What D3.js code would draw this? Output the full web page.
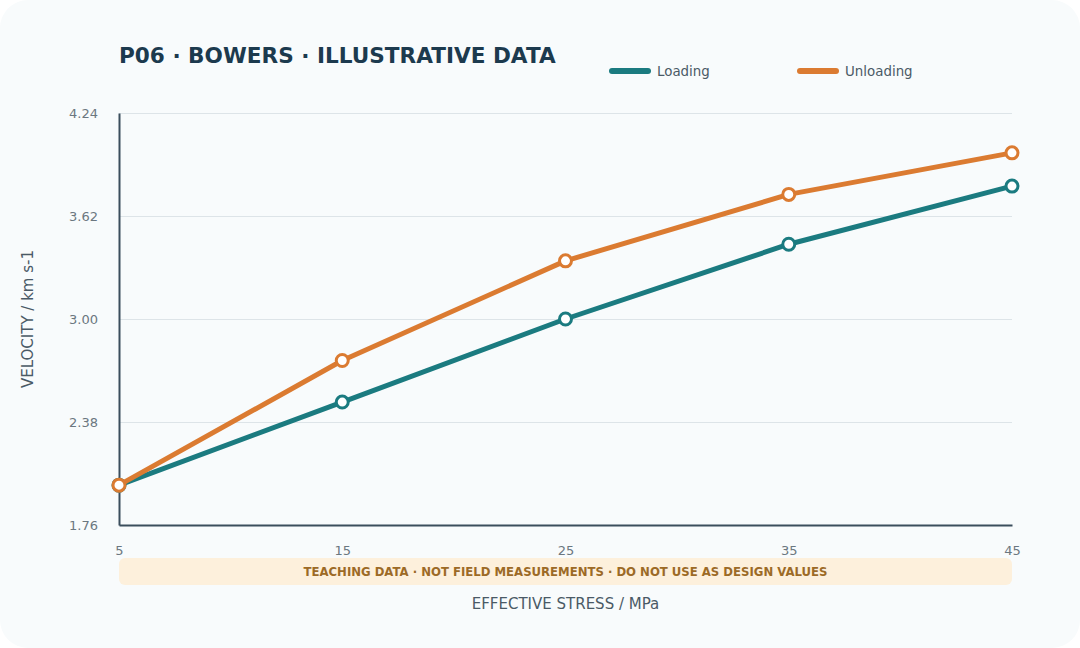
<!DOCTYPE html>
<html>
<head>
<meta charset="utf-8">
<script src="https://cdn.jsdelivr.net/npm/d3@7"></script>
<style>
  html, body { margin: 0; padding: 0; background: #ffffff; }
  svg { display: block; font-family: "DejaVu Sans", sans-serif; }
  svg text { font-family: "DejaVu Sans", sans-serif; }
</style>
</head>
<body>
<div id="chart"></div>
<script>
const stress = [5, 15, 25, 35, 45];
const loading = [2.00, 2.50, 3.00, 3.45, 3.80];
const unloading = [2.00, 2.75, 3.35, 3.75, 4.00];
const yTicks = [1.76, 2.38, 3.00, 3.62, 4.24];
const seriesNames = ["Loading", "Unloading"];

const colors = { Loading: "#1b7b80", Unloading: "#db7b31" };
const width = 1080, height = 648;
const margins = { top: 113, right: 68, bottom: 123, left: 119 };
const innerW = width - margins.left - margins.right;
const innerH = height - margins.top - margins.bottom;

const svg = d3.select("#chart").append("svg")
  .attr("width", width)
  .attr("height", height);

svg.append("rect")
  .attr("x", 0).attr("y", 0)
  .attr("width", width).attr("height", height)
  .attr("rx", 28)
  .attr("fill", "#f8fbfc");

const g = svg.append("g")
  .attr("transform", `translate(${margins.left},${margins.top})`);

const xScale = d3.scaleLinear().domain([5, 45]).range([0, innerW]);
const yScale = d3.scaleLinear().domain([1.76, 4.24]).range([innerH, 0]);

// grid
g.append("g")
  .attr("class", "grid")
  .call(d3.axisLeft(yScale).tickValues(yTicks).tickSize(-innerW).tickFormat(""))
  .call(s => s.select(".domain").remove())
  .selectAll("line")
  .attr("stroke", "#dde4e8")
  .attr("stroke-width", 1);

// y axis
const yAxis = g.append("g")
  .attr("class", "y axis")
  .call(d3.axisLeft(yScale).tickValues(yTicks).tickSize(0).tickPadding(21).tickFormat(d3.format(".2f")));
yAxis.attr("font-family", null).attr("font-size", null);
yAxis.select(".domain").attr("stroke", "#3b4e5c").attr("stroke-width", 2);
yAxis.selectAll("text").attr("fill", "#6b7780").style("font-size", "13px");

// x axis
const xAxis = g.append("g")
  .attr("class", "x axis")
  .attr("transform", `translate(0,${innerH})`)
  .call(d3.axisBottom(xScale).tickValues(stress).tickSize(0).tickPadding(21).tickFormat(d3.format("d")));
xAxis.attr("font-family", null).attr("font-size", null);
xAxis.select(".domain").attr("stroke", "#3b4e5c").attr("stroke-width", 2);
xAxis.selectAll("text").attr("fill", "#6b7780").style("font-size", "13px");

// lines + markers
const seriesData = { Loading: loading, Unloading: unloading };
seriesNames.forEach(key => {
  const pts = stress.map((s, i) => ({ x: s, y: seriesData[key][i] }));
  const line = d3.line().x(d => xScale(d.x)).y(d => yScale(d.y));
  g.append("path")
    .datum(pts)
    .attr("d", line)
    .attr("fill", "none")
    .attr("stroke", colors[key])
    .attr("stroke-width", 5)
    .attr("stroke-linejoin", "round")
    .attr("stroke-linecap", "round");
  g.selectAll(`circle.${key}`)
    .data(pts)
    .enter().append("circle")
    .attr("class", key)
    .attr("cx", d => xScale(d.x))
    .attr("cy", d => yScale(d.y))
    .attr("r", 6)
    .attr("fill", "#ffffff")
    .attr("stroke", colors[key])
    .attr("stroke-width", 3);
});

// banner
g.append("rect")
  .attr("x", 0)
  .attr("y", innerH + 33)
  .attr("width", innerW)
  .attr("height", 27)
  .attr("rx", 6)
  .attr("fill", "#fdf0dc");
g.append("text")
  .attr("x", innerW / 2)
  .attr("y", innerH + 47)
  .attr("dy", "0.35em")
  .attr("text-anchor", "middle")
  .attr("fill", "#9c6a26")
  .style("font-size", "11.7px")
  .style("font-weight", "bold")
  .text("TEACHING DATA · NOT FIELD MEASUREMENTS · DO NOT USE AS DESIGN VALUES");

// axis labels
svg.append("text")
  .attr("x", margins.left + innerW / 2)
  .attr("y", 609)
  .attr("text-anchor", "middle")
  .attr("fill", "#4a5a66")
  .style("font-size", "15px")
  .text("EFFECTIVE STRESS / MPa");

svg.append("text")
  .attr("transform", "rotate(-90)")
  .attr("x", -(margins.top + innerH / 2))
  .attr("y", 33)
  .attr("text-anchor", "middle")
  .attr("fill", "#4a5a66")
  .style("font-size", "15px")
  .text("VELOCITY / km s-1");

// title
svg.append("text")
  .attr("x", margins.left)
  .attr("y", 63)
  .attr("fill", "#1c3a4e")
  .style("font-size", "21.6px")
  .style("font-weight", "bold")
  .text("P06 · BOWERS · ILLUSTRATIVE DATA");

// legend
const legendX = [610, 798];
const legend = svg.selectAll(".legend")
  .data(seriesNames)
  .enter().append("g")
  .attr("class", "legend")
  .attr("transform", (d, i) => `translate(${legendX[i]},71)`);
legend.append("line")
  .attr("x1", 2).attr("x2", 38)
  .attr("y1", 0).attr("y2", 0)
  .attr("stroke", d => colors[d])
  .attr("stroke-width", 6)
  .attr("stroke-linecap", "round");
legend.append("text")
  .attr("x", 47)
  .attr("y", 0)
  .attr("dy", "0.35em")
  .attr("fill", "#4a5a66")
  .style("font-size", "13.4px")
  .text(d => d);
</script>
</body>
</html>
